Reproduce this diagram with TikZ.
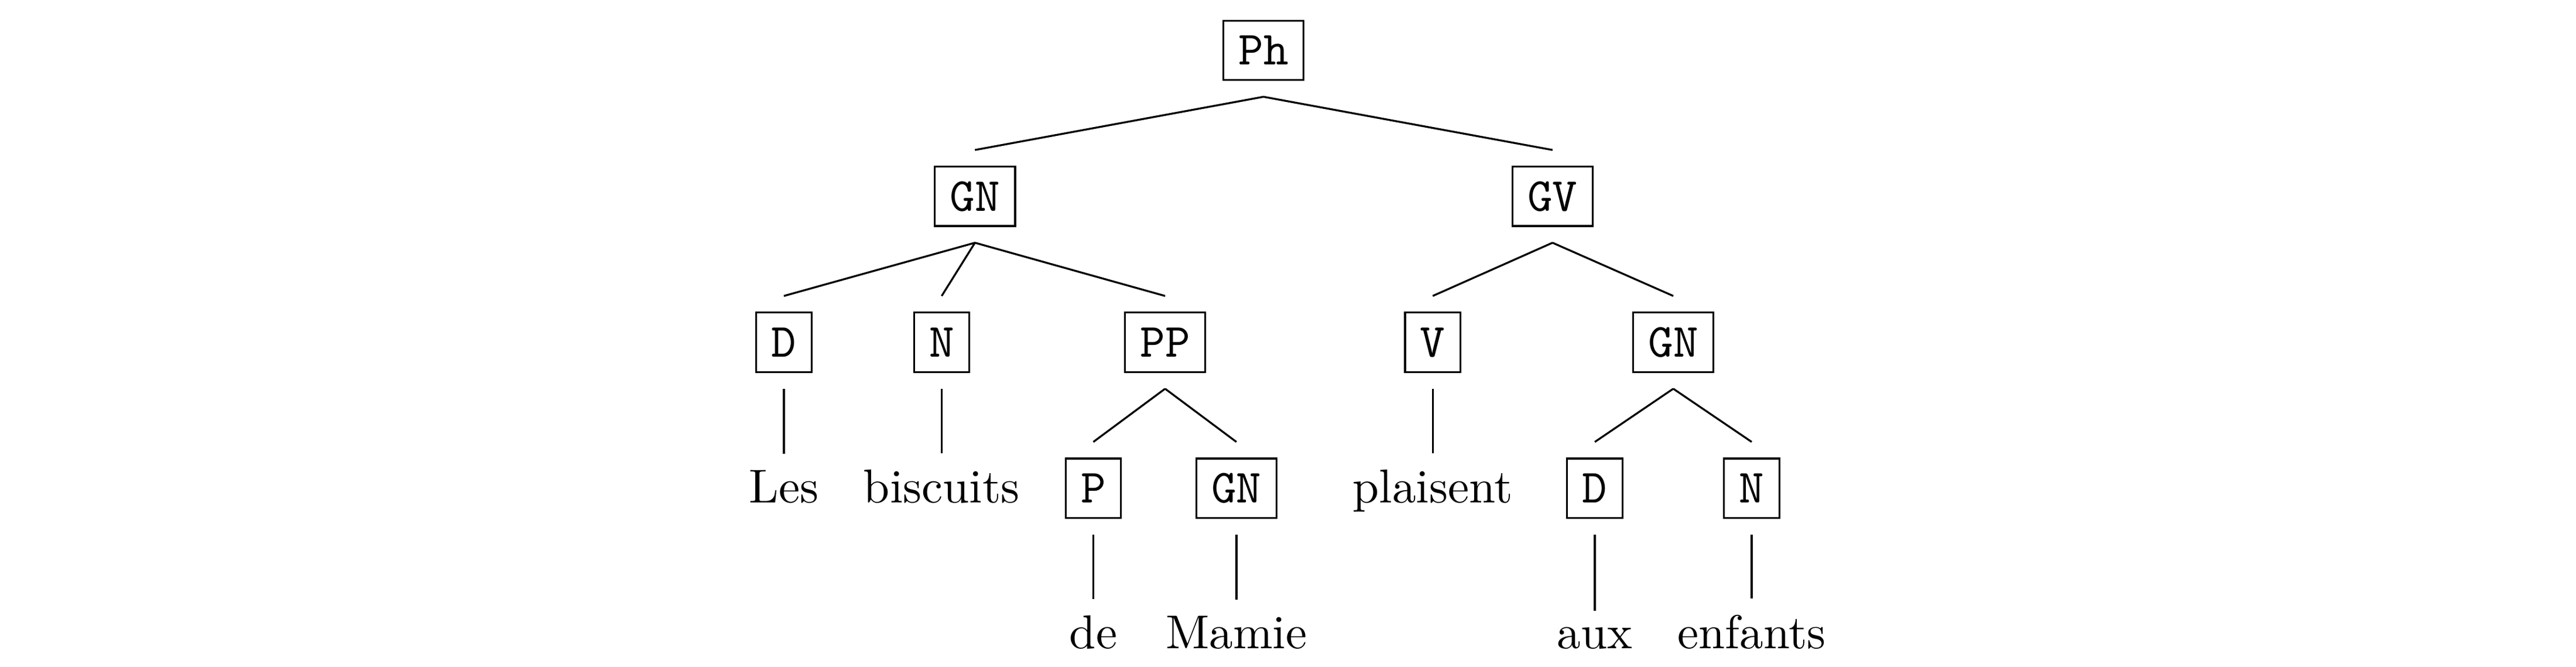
\documentclass[tikz,border=0pt]{standalone}
\usepackage{tikz}

\begin{document}
\begin{tikzpicture}[cat/.style={draw,font=\ttfamily,inner sep=3.2pt,outer sep=3.5pt,text height=6.11pt,text depth=0pt,anchor=base},
	mot/.style={inner sep=3.33pt,anchor=base}]
	\useasboundingbox (-265.8pt,-126.6pt) rectangle (276.1pt,13.65pt);
	\node [cat] (Ph) at (0pt,0pt) {Ph};
	\node [cat] (GNa) at (-60.7pt,-30.7pt) {GN};
	\node [cat] (GV) at (60.8pt,-30.7pt) {GV};
	\node [cat] (Da) at (-100.9pt,-61.4pt) {D};
	\node [cat] (Na) at (-67.7pt,-61.4pt) {N};
	\node [cat] (PP) at (-20.7pt,-61.4pt) {PP};
	\node [cat] (V) at (35.6pt,-61.4pt) {V};
	\node [cat] (GNb) at (86.2pt,-61.4pt) {GN};
	\node [mot] (les) at (-100.9pt,-92.1pt) {Les};
	\node [mot] (biscuits) at (-67.7pt,-92.1pt) {biscuits};
	\node [cat] (P) at (-35.8pt,-92.1pt) {P};
	\node [cat] (GNc) at (-5.7pt,-92.1pt) {GN};
	\node [mot] (plaisent) at (35.6pt,-92.1pt) {plaisent};
	\node [cat] (Db) at (69.7pt,-92.1pt) {D};
	\node [cat] (Nb) at (102.7pt,-92.1pt) {N};
	\node [mot] (de) at (-35.8pt,-122.8pt) {de};
	\node [mot] (mamie) at (-5.7pt,-122.8pt) {Mamie};
	\node [mot] (aux) at (69.7pt,-122.8pt) {aux};
	\node [mot] (enfants) at (102.7pt,-122.8pt) {enfants};
	% branches
	\draw (Ph.south) -- (GNa.north) (Ph.south) -- (GV.north);
	\draw (GNa.south) -- (Da.north) (GNa.south) -- (Na.north) (GNa.south) -- (PP.north);
	\draw (GV.south) -- (V.north) (GV.south) -- (GNb.north);
	\draw (Da.south) -- (les.north);
	\draw (Na.south) -- (biscuits.north);
	\draw (PP.south) -- (P.north) (PP.south) -- (GNc.north);
	\draw (V.south) -- (plaisent.north);
	\draw (GNb.south) -- (Db.north) (GNb.south) -- (Nb.north);
	\draw (P.south) -- (de.north);
	\draw (GNc.south) -- (mamie.north);
	\draw (Db.south) -- (aux.north);
	\draw (Nb.south) -- (enfants.north);
\end{tikzpicture}
\end{document}
